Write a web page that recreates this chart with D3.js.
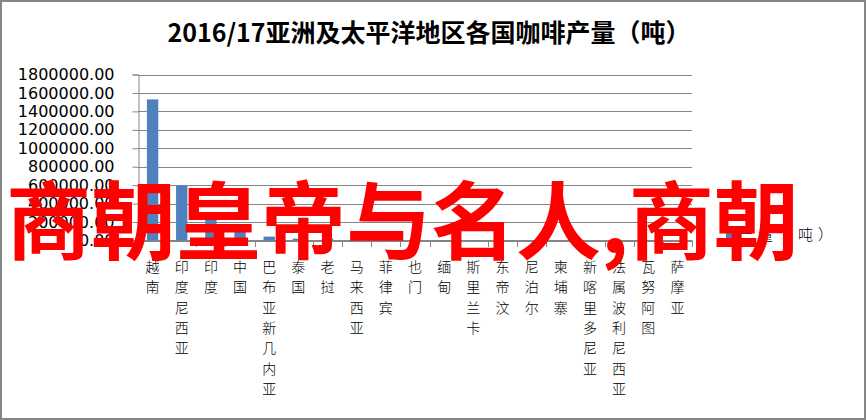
<!DOCTYPE html>
<html>
<head>
<meta charset="utf-8" />
<script src="https://cdn.jsdelivr.net/npm/d3@7"></script>
<style>
	body { margin: 0; background: #fff; }
	text { font-family: "Noto Sans CJK SC", sans-serif; }
</style>
</head>
<body>
<script>
	// values (tonnes)
	var categories = ["越南", "印度尼西亚", "印度", "中国", "巴布亚新几内亚", "泰国", "老挝", "马来西亚", "菲律宾", "也门",
		"缅甸", "斯里兰卡", "东帝汶", "尼泊尔", "柬埔寨", "新喀里多尼亚", "法属波利尼西亚", "瓦努阿图", "萨摩亚"];
	var output = [1530000, 598000, 270000, 110000, 42000, 20000, 20000, 19000, 16000, 8000,
		5000, 3000, 4000, 500, 1000, 100, 50, 100, 50];
	var yTicks = [0, 200000, 400000, 600000, 800000, 1000000, 1200000, 1400000, 1600000, 1800000];
	var title = "2016/17亚洲及太平洋地区各国咖啡产量（吨）";
	var seriesName = "产量（吨）";
	var overlay = "商朝皇帝与名人,商朝";

	var w = 867;
	var h = 420;
	var grey = "#868686";

	var svg = d3.select("body")
				.append("svg")
				.attr("width", w)
				.attr("height", h);

	svg.append("rect")
	   .attr("x", 1).attr("y", 1)
	   .attr("width", w - 3).attr("height", h - 2)
	   .attr("fill", "#fff")
	   .attr("stroke", grey)
	   .attr("stroke-width", 2);

	svg.append("text")
	   .attr("x", 429)
	   .attr("y", 42)
	   .attr("text-anchor", "middle")
	   .attr("font-size", 25)
	   .attr("font-weight", "bold")
	   .text(title);

	var x = d3.scaleBand().domain(categories).range([138, 692]);
	var y = d3.scaleLinear().domain([0, 1800000]).range([240.5, 74.5]);

	// gridlines
	svg.append("g")
	   .selectAll("line")
	   .data(yTicks)
	   .enter()
	   .append("line")
	   .attr("x1", 138).attr("x2", 692)
	   .attr("y1", function(d) { return Math.round(y(d)) + 0.5; })
	   .attr("y2", function(d) { return Math.round(y(d)) + 0.5; })
	   .attr("stroke", grey);

	var yAxis = svg.append("g")
				   .attr("transform", "translate(138.5,0)")
				   .call(d3.axisLeft(y).tickValues(yTicks).tickFormat(d3.format(".2f")).tickSize(6).tickPadding(18));
	yAxis.select(".domain").attr("stroke", grey);
	yAxis.selectAll(".tick line").attr("stroke", grey);
	yAxis.selectAll(".tick text")
		 .attr("fill", "#000")
		 .attr("font-size", 16)
		 .style("font-family", "'DejaVu Sans'");

	// x ticks on band boundaries
	var bounds = categories.map(function(c) { return x(c); }).concat([692]);
	svg.append("g")
	   .selectAll("line")
	   .data(bounds)
	   .enter()
	   .append("line")
	   .attr("x1", function(d) { return Math.round(d) + 0.5; })
	   .attr("x2", function(d) { return Math.round(d) + 0.5; })
	   .attr("y1", 240.5).attr("y2", 247)
	   .attr("stroke", grey);

	svg.append("line")
	   .attr("x1", 138).attr("x2", 692)
	   .attr("y1", 240.5).attr("y2", 240.5)
	   .attr("stroke", grey);

	var bw = x.bandwidth() * 0.39;
	svg.append("g")
	   .selectAll("rect")
	   .data(output)
	   .enter()
	   .append("rect")
	   .attr("x", function(d, i) { return x(categories[i]) + (x.bandwidth() - bw) / 2; })
	   .attr("y", function(d) { return y(d); })
	   .attr("width", bw)
	   .attr("height", function(d) { return y(0) - y(d); })
	   .attr("fill", "#4F81BD");

	// vertical category labels, one glyph per row
	var labels = svg.append("g")
					.selectAll("g")
					.data(categories)
					.enter()
					.append("g")
					.attr("transform", function(d) { return "translate(" + (x(d) + x.bandwidth() / 2) + ",0)"; });
	labels.selectAll("text")
		  .data(function(d) { return d.split(""); })
		  .enter()
		  .append("text")
		  .attr("x", 0)
		  .attr("y", function(d, i) { return 272 + i * 20.3; })
		  .attr("text-anchor", "middle")
		  .attr("font-size", 14)
		  .attr("font-weight", 300)
		  .text(function(d) { return d; });

	// legend
	svg.append("rect")
	   .attr("x", 726).attr("y", 231)
	   .attr("width", 7).attr("height", 7)
	   .attr("fill", "#4F81BD");
	svg.append("text")
	   .attr("x", 738)
	   .attr("y", 240)
	   .attr("font-size", 15)
	   .attr("font-weight", 300)
	   .attr("letter-spacing", 5)
	   .text(seriesName);

	// red overlay text
	svg.append("text")
	   .attr("x", 6)
	   .attr("y", 253)
	   .attr("font-size", 85)
	   .attr("font-weight", "bold")
	   .attr("fill", "#ff0000")
	   .text(overlay);
</script>
</body>
</html>
